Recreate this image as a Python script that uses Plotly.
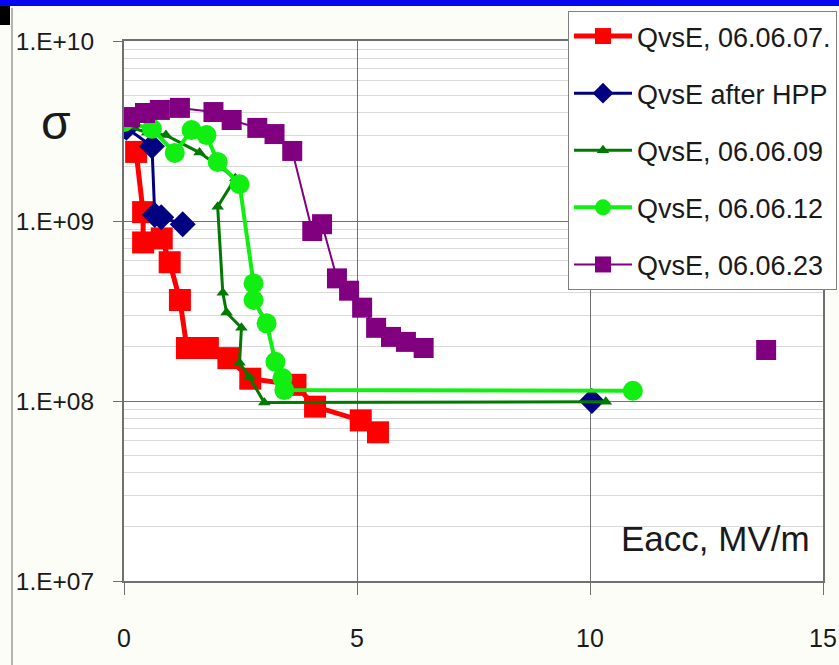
import plotly.graph_objects as go

# ---- data (Eacc in MV/m, Q) ----
red_x = [0.26, 0.41, 0.41, 0.81, 0.98, 1.20, 1.35, 1.80, 2.24, 2.71, 3.68, 4.10, 5.08, 5.45]
red_y = [2.42e9, 1.12e9, 7.6e8, 8.0e8, 5.9e8, 3.64e8, 1.97e8, 1.97e8, 1.73e8, 1.33e8, 1.23e8, 9.3e7, 7.8e7, 6.7e7]

hpp_x = [0.05, 0.60, 0.66, 0.80, 1.26, None, 10.04]
hpp_y = [3.3e9, 2.6e9, 1.08e9, 1.05e9, 9.6e8, None, 1.0e8]

d09_x = [0.0, 0.5, 0.9, 1.62, 2.39, 2.01, 2.12, 2.20, 2.52, 2.48, 2.69, 3.01, 10.34]
d09_y = [3.4e9, 3.1e9, 3.0e9, 2.4e9, 1.73e9, 1.2e9, 4.0e8, 3.1e8, 2.55e8, 1.63e8, 1.36e8, 9.8e7, 9.9e7]

d12_x = [0.0, 0.6, 1.09, 1.45, 1.77, 2.01, 2.48, 2.78, 2.78, 3.06, 3.25, 3.40, 3.44, 10.92]
d12_y = [3.55e9, 3.25e9, 2.39e9, 3.2e9, 3.0e9, 2.13e9, 1.6e9, 4.5e8, 3.64e8, 2.7e8, 1.65e8, 1.34e8, 1.15e8, 1.14e8]

d23_x = [0.13, 0.45, 0.77, 1.20, 1.92, 2.31, 2.86, 3.23, 3.61, 4.04, 4.25, 4.57, 4.83, 5.11, 5.41, 5.73, 6.05, 6.43, None, 13.78]
d23_y = [3.78e9, 3.98e9, 4.14e9, 4.25e9, 4.03e9, 3.64e9, 3.29e9, 3.04e9, 2.45e9, 8.8e8, 9.6e8, 4.8e8, 4.1e8, 3.3e8, 2.55e8, 2.27e8, 2.13e8, 1.97e8, None, 1.92e8]

names = ["QvsE, 06.06.07.", "QvsE after HPP", "QvsE, 06.06.09", "QvsE, 06.06.12", "QvsE, 06.06.23"]

y_tickvals = [1e7, 1e8, 1e9, 1e10]
y_ticktext = ["1.E+07", "1.E+08", "1.E+09", "1.E+10"]
x_tickvals = [0, 5, 10, 15]

FONT = "Liberation Sans, Arial, sans-serif"

W, H = 839, 665
L, R, T, B = 124, 823, 41, 581


def px(xp):
    return (xp - L) / (R - L)


def py(yp):
    return 1 + (T - yp) / (B - T)


fig = go.Figure()
series = [
    (red_x, red_y, "#ff0000", 5, "square", 22),
    (hpp_x, hpp_y, "#000080", 3, "diamond", 20),
    (d09_x, d09_y, "#007a00", 3, "triangle-up", 11),
    (d12_x, d12_y, "#11ee11", 4, "circle", 20),
    (d23_x, d23_y, "#800080", 2, "square", 20),
]
for i, (xs, ys, c, lw, sym, ms) in enumerate(series):
    fig.add_trace(go.Scatter(
        x=xs, y=ys, mode="lines+markers", name=names[i], legendgroup=str(i),
        line=dict(color=c, width=lw), connectgaps=False,
        marker=dict(symbol=sym, size=ms, color=c, line=dict(width=0)),
    ))

minor_vals = [m * 10 ** e for e in (7, 8, 9) for m in range(2, 10)]

fig.update_layout(
    width=W, height=H,
    margin=dict(l=L, r=W - R, t=T, b=H - B, autoexpand=False),
    paper_bgcolor="#fdfdf7", plot_bgcolor="white",
    font=dict(family=FONT, color="#1a1a1a", size=26),
    showlegend=True,
    legend=dict(
        x=px(568), y=py(11), xanchor="left", yanchor="top",
        bgcolor="white", bordercolor="#808080", borderwidth=1,
        font=dict(family=FONT, size=27, color="#1a1a1a"),
        tracegroupgap=19, traceorder="grouped", itemwidth=58,
    ),
    xaxis=dict(
        range=[0, 15], tickmode="array", tickvals=x_tickvals,
        showgrid=True, gridcolor="#707070", gridwidth=1,
        ticks="outside", ticklen=12, tickcolor="#707070",
        showline=True, linecolor="#707070", linewidth=2, mirror=True,
        zeroline=False, tickfont=dict(size=25), ticklabelstandoff=22,
    ),
    yaxis=dict(
        type="log", range=[7, 10], tickmode="array", tickvals=y_tickvals, ticktext=y_ticktext,
        showgrid=True, gridcolor="#707070", gridwidth=1,
        ticks="outside", ticklen=9, tickcolor="#707070",
        showline=True, linecolor="#707070", linewidth=2, mirror=True,
        zeroline=False, tickfont=dict(size=24.5), ticklabelstandoff=14,
        minor=dict(tickmode="array", tickvals=minor_vals, showgrid=True,
                   gridcolor="#d9d9d9", gridwidth=1, ticks=""),
    ),
    shapes=[
        dict(type="rect", xref="paper", yref="paper", x0=px(-5), x1=px(W + 5), y0=py(6), y1=py(-5),
             fillcolor="#0606f0", line=dict(width=0), layer="above"),
        dict(type="rect", xref="paper", yref="paper", x0=px(-5), x1=px(10), y0=py(25), y1=py(6),
             fillcolor="#000000", line=dict(width=0), layer="above"),
        dict(type="line", xref="paper", yref="paper", x0=px(12), x1=px(12), y0=py(8), y1=py(H + 5),
             line=dict(color="#9a9a9a", width=1.5)),
    ],
    annotations=[
        dict(text="σ", xref="paper", yref="paper", x=px(56), y=py(122),
             xanchor="center", yanchor="middle",
             showarrow=False, font=dict(family=FONT, size=48, color="#1a1a1a")),
        dict(text="Eacc, MV/m", xref="paper", yref="paper", x=px(715), y=py(538),
             xanchor="center", yanchor="middle",
             showarrow=False, font=dict(family=FONT, size=35, color="#1a1a1a")),
    ],
)

fig.write_html("out.html", config={"displayModeBar": False},
               post_script="document.body.style.margin='0';")
